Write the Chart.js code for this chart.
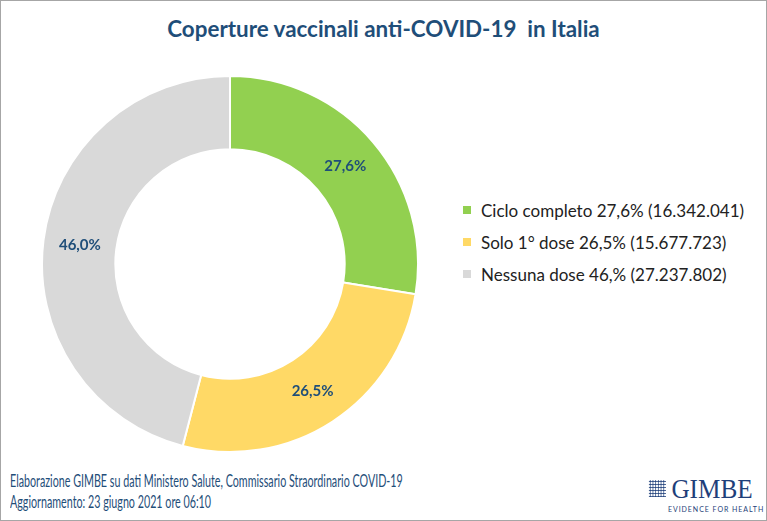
<!DOCTYPE html>
<html>
<head>
<meta charset="utf-8">
<script src="https://cdn.jsdelivr.net/npm/chart.js@4"></script>
<style>
  html, body { margin: 0; padding: 0; background: #fff; }
  body { width: 767px; height: 521px; position: relative; overflow: hidden; font-family: Lato, "Open Sans", sans-serif; }
  #frame { position: absolute; left: 0; top: 0; width: 765px; height: 519px; border: 1px solid #a6a6a6; }
  #title { position: absolute; left: 0; width: 767px; top: 15px; text-align: center; color: #1f4e79; font-weight: bold; font-size: 22.4px; }
  #chartBox { position: absolute; left: 41px; top: 75px; width: 378px; height: 378px; }
  #legend { position: absolute; left: 463px; top: 194px; }
  .item { display: flex; align-items: center; height: 32px; font-size: 17px; color: #222; white-space: nowrap; }
  .sq { width: 8px; height: 8px; margin-right: 10px; }
  #footer { position: absolute; left: 10px; top: 471px; color: #1f4e79; font-size: 16.5px; line-height: 21px;
    white-space: nowrap; transform: scaleX(0.65); transform-origin: left top; }
  #logo { position: absolute; left: 648px; top: 476px; color: #1f3f7a; white-space: nowrap; }
  #logo .name { font-family: "Liberation Serif", serif; font-size: 28px; line-height: 26px; padding-left: 26px; position: relative;
    transform: scaleX(0.9); transform-origin: left top; }
  #logo .icon { position: absolute; left: 1px; top: 4px; width: 19px; height: 17px;
    background-image: radial-gradient(#1f3f7a 45%, transparent 55%); background-size: 3px 3px; }
  #logo .sub { font-size: 7px; letter-spacing: 0.95px; padding-left: 20px; margin-top: 3px; }
</style>
</head>
<body>
<div id="frame"></div>
<div id="title">Coperture vaccinali anti-COVID-19&nbsp; in Italia</div>
<div id="chartBox"><canvas id="donut"></canvas></div>
<div id="legend"></div>
<div id="footer">Elaborazione GIMBE su dati Ministero Salute, Commissario Straordinario COVID-19<br>Aggiornamento: 23 giugno 2021 ore 06:10</div>
<div id="logo"><div class="name"><span class="icon"></span>GIMBE</div><div class="sub">EVIDENCE FOR HEALTH</div></div>
<script>
// Vaccination coverage, Italy, 23 June 2021
const categories = ['Ciclo completo', 'Solo 1° dose', 'Nessuna dose'];
const percentValues = [27.6, 26.5, 46.0];
const sliceLabels = ['27,6%', '26,5%', '46,0%'];
const legendLabels = [
    'Ciclo completo 27,6% (16.342.041)',
    'Solo 1° dose 26,5% (15.677.723)',
    'Nessuna dose 46,% (27.237.802)'
];
const sliceColors = ['#92d050', '#ffd966', '#d9d9d9'];

// legend
const legendEl = document.getElementById('legend');
legendLabels.forEach((txt, i) => {
    const row = document.createElement('div');
    row.className = 'item';
    row.innerHTML = '<span class="sq" style="background:' + sliceColors[i] + '"></span>' + txt;
    legendEl.appendChild(row);
});

// percentage labels in the middle of each slice
const sliceLabelPlugin = {
    id: 'sliceLabels',
    afterDatasetsDraw(chart) {
        const ctx = chart.ctx;
        const meta = chart.getDatasetMeta(0);
        ctx.save();
        ctx.font = 'bold 15px Lato';
        ctx.fillStyle = '#1f4e79';
        ctx.textAlign = 'center';
        ctx.textBaseline = 'middle';
        meta.data.forEach((arc, i) => {
            const p = arc.tooltipPosition();
            ctx.fillText(sliceLabels[i], p.x, p.y);
        });
        ctx.restore();
    }
};

new Chart(document.getElementById('donut'), {
    type: 'doughnut',
    data: {
        labels: categories,
        datasets: [{
            data: percentValues,
            backgroundColor: sliceColors,
            borderColor: '#ffffff',
            borderWidth: 2
        }]
    },
    options: {
        responsive: true,
        maintainAspectRatio: false,
        animation: false,
        cutout: '61%',
        plugins: {
            legend: { display: false },
            tooltip: { enabled: false }
        }
    },
    plugins: [sliceLabelPlugin]
});
</script>
</body>
</html>
